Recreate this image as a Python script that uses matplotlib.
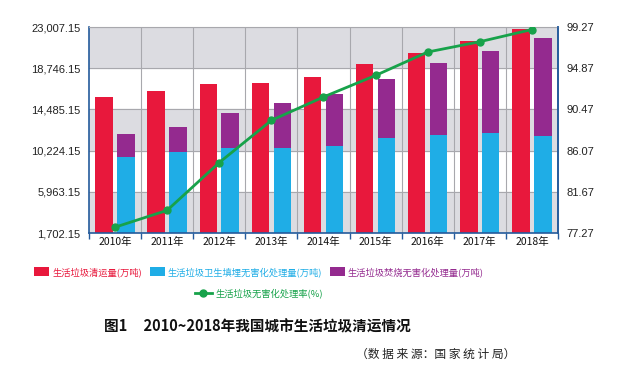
import matplotlib.pyplot as plt
import numpy as np

plt.rcParams['font.family'] = ['Noto Sans CJK SC', 'DejaVu Sans']

years = ['2010年', '2011年', '2012年', '2013年', '2014年', '2015年', '2016年', '2017年', '2018年']
clearance = [15804, 16395, 17081, 17239, 17860, 19142, 20362, 21521, 22802]
landfill = [9598, 10064, 10512, 10493, 10744, 11483, 11866, 12038, 11706]
incineration = [2317, 2599, 3584, 4634, 5330, 6176, 7378, 8463, 10185]
rate = [77.9, 79.7, 84.8, 89.3, 91.8, 94.1, 96.6, 97.7, 99.0]

left_ticks = [1702.15, 5963.15, 10224.15, 14485.15, 18746.15, 23007.15]
right_ticks = [77.27, 81.67, 86.07, 90.47, 94.87, 99.27]

red = '#e8183c'
blue = '#1fade6'
purple = '#942a8f'
green = '#17a24a'
spine = '#245b9c'

fig = plt.figure(figsize=(6.32, 3.70), dpi=100)
ax = fig.add_axes([0.1408, 0.370, 0.742, 0.557])
ax.set_facecolor('white')

x = np.arange(len(years))
ax.set_xlim(-0.5, len(years) - 0.5)
ax.set_ylim(left_ticks[0], left_ticks[-1])

# alternating bands
for i in range(len(left_ticks) - 1):
    if i % 2 == 0:
        ax.axhspan(left_ticks[i], left_ticks[i + 1], color='#dcdce1', zorder=0)
for t in left_ticks[1:]:
    ax.axhline(t, color='#a8a8ad', lw=0.8, zorder=0.5)
for b in np.arange(0.5, len(years) - 0.5, 1):
    ax.axvline(b, color='#a8a8ad', lw=0.8, zorder=0.5)

w = 0.335
ax.bar(x - 0.21, clearance, w, color=red, zorder=2, label='生活垃圾清运量(万吨)')
ax.bar(x + 0.21, landfill, w, color=blue, zorder=2, label='生活垃圾卫生填埋无害化处理量(万吨)')
ax.bar(x + 0.21, incineration, w, bottom=landfill, color=purple, zorder=2,
       label='生活垃圾焚烧无害化处理量(万吨)')

ax.set_yticks(left_ticks)
ax.set_yticklabels(['{:,.2f}'.format(t) for t in left_ticks], fontsize=8,
                   family='Liberation Sans', color='#222222')
ax.set_xticks(np.arange(-0.5, len(years), 1))
ax.set_xticklabels([])
ax.set_xticks(x, minor=True)
ax.set_xticklabels(years, minor=True, fontsize=7.5, color='#111111')
ax.tick_params(axis='x', which='major', length=4, width=1, color=spine, direction='out')
ax.tick_params(axis='x', which='minor', length=0, pad=3)
ax.tick_params(axis='y', length=0, pad=6)

for s in ['left', 'bottom', 'right']:
    ax.spines[s].set_color(spine)
    ax.spines[s].set_linewidth(1.2)
ax.spines['top'].set_color('#a8a8ad')
ax.spines['top'].set_linewidth(0.8)

ax2 = ax.twinx()
ax2.set_ylim(right_ticks[0], right_ticks[-1])
ax2.plot(x, rate, color=green, lw=2, marker='o', ms=5, zorder=3,
         label='生活垃圾无害化处理率(%)')
ax2.set_yticks(right_ticks)
ax2.set_yticklabels(['{:.2f}'.format(t) for t in right_ticks], fontsize=8,
                    family='Liberation Sans', color='#222222')
ax2.tick_params(axis='y', length=0, pad=6)
for s in ax2.spines.values():
    s.set_visible(False)
ax2.spines['right'].set_visible(True)
ax2.spines['right'].set_color(spine)
ax2.spines['right'].set_linewidth(1.2)

h1, l1 = ax.get_legend_handles_labels()
leg1 = fig.legend(h1, l1, loc='center', bbox_to_anchor=(0.41, 0.265), ncol=3, frameon=False,
                  fontsize=6.7, handlelength=1.6, handleheight=1.1, handletextpad=0.35,
                  columnspacing=0.8, borderpad=0)
for t, c in zip(leg1.get_texts(), [red, blue, purple]):
    t.set_color(c)
h2, l2 = ax2.get_legend_handles_labels()
leg2 = fig.legend(h2, l2, loc='center', bbox_to_anchor=(0.41, 0.208), frameon=False,
                  fontsize=6.7, handlelength=1.8, handletextpad=0.4, borderpad=0)
leg2.get_texts()[0].set_color(green)

fig.text(0.408, 0.117, '图1     2010~2018年我国城市生活垃圾清运情况', ha='center', va='center',
         fontsize=10.5, fontweight='bold', color='#111111')
fig.text(0.815, 0.043, '（数 据 来 源：国 家 统 计 局）', ha='right', va='center',
         fontsize=8.5, color='#222222')

fig.savefig('out.png', dpi=100)
